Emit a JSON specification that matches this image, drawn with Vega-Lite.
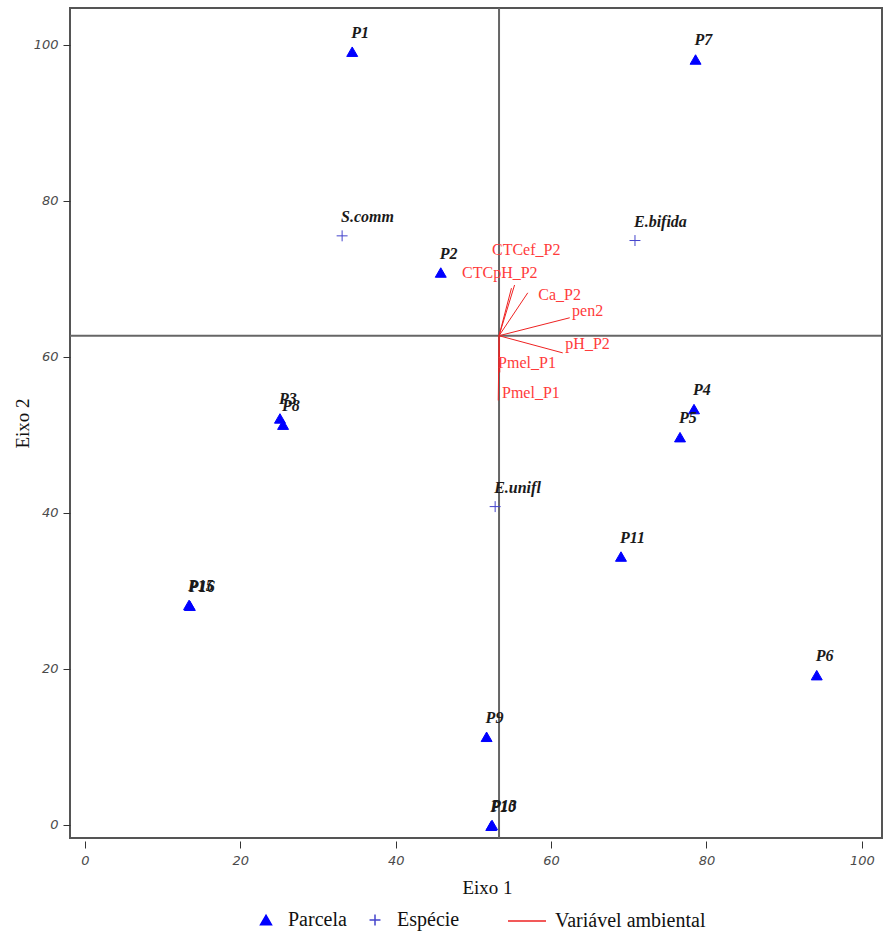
{
  "$schema": "https://vega.github.io/schema/vega-lite/v6.json",
  "autosize": "none",
  "width": 812,
  "height": 830,
  "padding": {"left": 70, "top": 8, "right": 2, "bottom": 95},
  "background": "white",
  "config": {
    "view": {"stroke": "#555555", "strokeWidth": 2},
    "axis": {
      "grid": false,
      "domain": false,
      "tickColor": "#333333",
      "tickSize": 7,
      "labelFont": "DejaVu Sans",
      "labelFontStyle": "italic",
      "labelFontSize": 13,
      "labelColor": "#4a4a4a",
      "titleFont": "Liberation Serif",
      "titleFontWeight": "normal",
      "titleFontSize": 19,
      "titleColor": "#111111"
    }
  },
  "datasets": {
    "pontos": [
      {"nome": "P1", "tipo": "Parcela", "x": 34.4, "y": 99.1},
      {"nome": "P2", "tipo": "Parcela", "x": 45.8, "y": 70.8},
      {"nome": "P3", "tipo": "Parcela", "x": 25.1, "y": 52.1},
      {"nome": "P4", "tipo": "Parcela", "x": 78.4, "y": 53.3},
      {"nome": "P5", "tipo": "Parcela", "x": 76.6, "y": 49.7},
      {"nome": "P6", "tipo": "Parcela", "x": 94.2, "y": 19.2},
      {"nome": "P7", "tipo": "Parcela", "x": 78.6, "y": 98.1},
      {"nome": "P8", "tipo": "Parcela", "x": 25.5, "y": 51.3},
      {"nome": "P9", "tipo": "Parcela", "x": 51.7, "y": 11.3},
      {"nome": "P10", "tipo": "Parcela", "x": 52.3, "y": -0.1},
      {"nome": "P13", "tipo": "Parcela", "x": 52.4, "y": 0.0},
      {"nome": "P11", "tipo": "Parcela", "x": 69.0, "y": 34.4},
      {"nome": "P15", "tipo": "Parcela", "x": 13.4, "y": 28.2},
      {"nome": "P16", "tipo": "Parcela", "x": 13.5, "y": 28.1},
      {"nome": "S.comm", "tipo": "Espécie", "x": 33.1, "y": 75.5},
      {"nome": "E.bifida", "tipo": "Espécie", "x": 70.8, "y": 74.9},
      {"nome": "E.unifl", "tipo": "Espécie", "x": 52.8, "y": 40.8}
    ],
    "vetores": [
      {"var": "CTCef_P2", "tipo": "Variável ambiental", "x0": 53.3, "y0": 62.7, "x1": 55.3, "y1": 69.2, "lx": 56.8, "ly": 73.7},
      {"var": "CTCpH_P2", "tipo": "Variável ambiental", "x0": 53.3, "y0": 62.7, "x1": 54.9, "y1": 68.8, "lx": 53.4, "ly": 70.8},
      {"var": "Ca_P2", "tipo": "Variável ambiental", "x0": 53.3, "y0": 62.7, "x1": 57.0, "y1": 68.2, "lx": 61.1, "ly": 67.9},
      {"var": "pen2", "tipo": "Variável ambiental", "x0": 53.3, "y0": 62.7, "x1": 62.4, "y1": 65.0, "lx": 64.7, "ly": 65.9},
      {"var": "pH_P2", "tipo": "Variável ambiental", "x0": 53.3, "y0": 62.7, "x1": 61.5, "y1": 60.5, "lx": 64.7, "ly": 61.7},
      {"var": "Pmel_P1", "tipo": "Variável ambiental", "x0": 53.3, "y0": 62.7, "x1": 53.4, "y1": 58.0, "lx": 56.9, "ly": 59.2},
      {"var": "Pmel_P1", "tipo": "Variável ambiental", "x0": 53.3, "y0": 62.7, "x1": 53.2, "y1": 54.4, "lx": 57.4, "ly": 55.4}
    ],
    "eixos": [{"cx": 53.3, "cy": 62.7}]
  },
  "layer": [
    {
      "data": {"name": "eixos"},
      "mark": {"type": "rule", "color": "#666666", "strokeWidth": 2},
      "encoding": {
        "x": {"field": "cx", "type": "quantitative",
          "scale": {"domain": [-1.93, 102.6], "nice": false, "zero": false},
          "axis": {"values": [0, 20, 40, 60, 80, 100], "offset": 3, "labelPadding": 6, "title": "Eixo 1", "titleX": 417, "titleY": 46, "titleBaseline": "middle"}}
      }
    },
    {
      "data": {"name": "eixos"},
      "mark": {"type": "rule", "color": "#666666", "strokeWidth": 2},
      "encoding": {
        "y": {"field": "cy", "type": "quantitative",
          "scale": {"domain": [-1.67, 104.7], "nice": false, "zero": false},
          "axis": {"values": [0, 20, 40, 60, 80, 100], "labelPadding": 5, "title": "Eixo 2", "titleX": -48, "titleY": 415, "titleBaseline": "middle", "titleAngle": -90}}
      }
    },
    {
      "data": {"name": "vetores"},
      "mark": {"type": "rule", "strokeWidth": 1},
      "encoding": {
        "x": {"field": "x0", "type": "quantitative"},
        "y": {"field": "y0", "type": "quantitative"},
        "x2": {"field": "x1"},
        "y2": {"field": "y1"},
        "color": {"field": "tipo", "type": "nominal",
          "scale": {"domain": ["Variável ambiental"], "range": ["#ee2222"]},
          "legend": {"title": null, "orient": "none", "legendX": 437, "legendY": 893, "direction": "horizontal",
            "symbolType": "stroke", "symbolSize": 1444, "symbolStrokeWidth": 1.5, "labelOffset": 8,
            "labelFont": "Liberation Serif", "labelFontSize": 20, "labelColor": "#111111", "padding": 0}}
      }
    },
    {
      "data": {"name": "vetores"},
      "mark": {"type": "text", "font": "Liberation Serif", "fontSize": 16, "color": "#ff3b3b", "align": "center", "baseline": "middle"},
      "encoding": {
        "x": {"field": "lx", "type": "quantitative"},
        "y": {"field": "ly", "type": "quantitative"},
        "text": {"field": "var"}
      }
    },
    {
      "data": {"name": "pontos"},
      "mark": {"type": "point", "size": 120, "strokeWidth": 1, "opacity": 1},
      "encoding": {
        "x": {"field": "x", "type": "quantitative"},
        "y": {"field": "y", "type": "quantitative"},
        "shape": {"field": "tipo", "type": "nominal",
          "scale": {"domain": ["Parcela", "Espécie"], "range": ["triangle-up", "M-1,0H1M0,-1V1"]},
          "legend": {"title": null, "orient": "none", "legendX": 186, "legendY": 902, "direction": "horizontal",
            "symbolSize": 120, "labelOffset": 12, "columnPadding": 18, "labelFont": "Liberation Serif", "labelFontSize": 20, "labelColor": "#111111", "padding": 0}},
        "fill": {"field": "tipo", "type": "nominal",
          "scale": {"domain": ["Parcela", "Espécie"], "range": ["#0000ff", "transparent"]},
          "legend": {"title": null, "orient": "none", "legendX": 186, "legendY": 902, "direction": "horizontal",
            "symbolSize": 120, "labelOffset": 12, "columnPadding": 18, "labelFont": "Liberation Serif", "labelFontSize": 20, "labelColor": "#111111", "padding": 0}},
        "stroke": {"field": "tipo", "type": "nominal",
          "scale": {"domain": ["Parcela", "Espécie"], "range": ["#0000ff", "#4444cc"]},
          "legend": {"title": null, "orient": "none", "legendX": 186, "legendY": 902, "direction": "horizontal",
            "symbolSize": 120, "labelOffset": 12, "columnPadding": 18, "labelFont": "Liberation Serif", "labelFontSize": 20, "labelColor": "#111111", "padding": 0}}
      }
    },
    {
      "data": {"name": "pontos"},
      "mark": {"type": "text", "font": "Liberation Serif", "fontSize": 16, "fontStyle": "italic", "fontWeight": "bold", "color": "#1a1a1a", "align": "left", "baseline": "middle", "dx": -1, "dy": -19},
      "encoding": {
        "x": {"field": "x", "type": "quantitative"},
        "y": {"field": "y", "type": "quantitative"},
        "text": {"field": "nome"}
      }
    }
  ]
}
